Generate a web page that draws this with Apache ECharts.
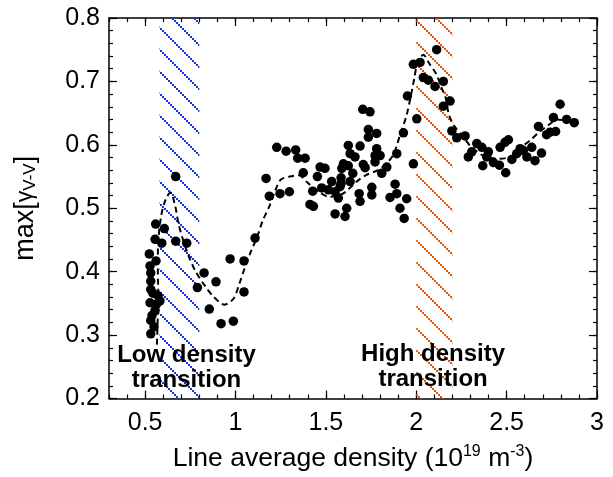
<!DOCTYPE html>
<html>
<head>
<meta charset="utf-8">
<script src="https://cdn.jsdelivr.net/npm/echarts@6/dist/echarts.min.js"></script>
<style>
html,body{margin:0;padding:0;background:#fff;}
#chart{width:613px;height:477px;}
</style>
</head>
<body>
<div id="chart"></div>
<script>
// measured points, max[gamma V-V] vs line average density
var pointsX = [
  0.669,0.558,0.606,0.669,0.730,0.555,0.592,0.523,0.560,0.527,0.531,0.531,0.531,0.527,0.582,0.564,0.555,0.531,0.531,
  0.826,0.789,0.855,0.543,0.571,0.538,0.549,
  0.892,0.970,1.047,1.047,0.920,0.988,1.108,1.187,1.246,1.298,1.169,1.228,1.280,1.333,1.344,
  1.704,1.744,1.735,1.781,1.735,1.624,1.689,1.385,1.634,1.661,1.781,1.772,1.800,1.892,1.772,1.597,1.588,1.624,
  1.707,1.717,1.468,1.495,1.375,1.453,1.584,1.649,1.809,1.837,1.984,1.532,1.584,1.634,1.477,1.514,1.551,1.427,
  1.569,1.684,1.754,1.754,1.883,1.892,1.689,1.855,1.947,1.910,1.933,1.412,1.431,1.615,1.551,1.606,1.578,
  2.003,1.951,1.929,1.984,2.021,2.113,2.039,2.067,2.104,2.150,2.187,2.150,2.197,2.224,2.270,2.335,2.288,2.307,
  2.363,2.399,2.390,2.368,2.427,2.460,2.495,2.464,2.491,2.510,2.529,2.575,2.593,2.556,2.612,2.657,2.639,2.693,
  2.676,2.721,2.740,2.771,2.759,2.796,2.832,2.874
];
var pointsY = [
  0.550,0.475,0.468,0.448,0.445,0.451,0.445,0.428,0.417,0.409,0.398,0.385,0.372,0.351,0.354,0.349,0.339,0.323,0.302,
  0.398,0.375,0.341,0.366,0.362,0.331,0.313,
  0.384,0.420,0.417,0.368,0.318,0.322,0.453,0.519,0.523,0.526,0.547,0.596,0.590,0.592,0.579,
  0.656,0.652,0.624,0.618,0.612,0.599,0.598,0.579,0.586,0.581,0.594,0.583,0.583,0.586,0.573,0.570,0.563,0.567,
  0.569,0.564,0.565,0.563,0.556,0.550,0.548,0.555,0.555,0.565,0.570,0.542,0.539,0.542,0.532,0.529,0.526,0.527,
  0.516,0.523,0.533,0.521,0.538,0.523,0.511,0.517,0.515,0.500,0.484,0.506,0.503,0.500,0.491,0.487,0.534,
  0.641,0.677,0.619,0.727,0.730,0.750,0.706,0.702,0.692,0.700,0.669,0.661,0.622,0.611,0.614,0.602,0.581,0.589,
  0.596,0.589,0.581,0.567,0.572,0.568,0.556,0.596,0.604,0.608,0.577,0.594,0.591,0.586,0.581,0.575,0.596,0.587,
  0.629,0.616,0.620,0.621,0.643,0.664,0.640,0.635
];
// dashed trend curve
var trendX = [0.565,0.57,0.572,0.57,0.572,0.59,0.615,0.64,0.665,0.685,0.71,0.74,0.78,0.83,0.88,0.94,0.99,1.02,1.05,1.08,
  1.12,1.15,1.19,1.22,1.25,1.30,1.35,1.40,1.46,1.52,1.57,1.61,1.67,1.72,1.80,1.87,1.915,1.945,1.97,1.99,2.005,2.04,
  2.07,2.11,2.14,2.165,2.18,2.21,2.27,2.30,2.37,2.45,2.53,2.59,2.63,2.68,2.735,2.78,2.85];
var trendY = [0.285,0.33,0.37,0.41,0.445,0.49,0.515,0.525,0.505,0.475,0.45,0.425,0.40,0.378,0.36,0.348,0.358,0.38,0.405,0.428,
  0.455,0.48,0.505,0.528,0.545,0.55,0.552,0.54,0.526,0.518,0.52,0.526,0.542,0.552,0.562,0.583,0.62,0.645,0.677,0.706,0.727,0.742,
  0.729,0.712,0.69,0.672,0.648,0.63,0.609,0.598,0.583,0.578,0.582,0.598,0.607,0.62,0.632,0.64,0.636];
// transition bands
var lowBand = [0.58, 0.80];
var highBand = [2.00, 2.20];
var bandNames = ['Low density\ntransition', 'High density\ntransition'];
var labelX = [0.729, 2.093];
var labelY = [0.249, 0.250];
// ticks
var xMajor = [0.5, 1, 1.5, 2, 2.5, 3];
var yMajor = [0.2, 0.3, 0.4, 0.5, 0.6, 0.7, 0.8];
var xMinor = [];
for (var i = 3; i <= 30; i++) xMinor.push(i / 10);
var yMinor = [];
for (var j = 10; j <= 40; j++) yMinor.push(j / 50);

var FONT = 'Liberation Sans, Arial, Helvetica, sans-serif';

// diagonal hatch tile for the transition bands
function hatch(color){
	var c = document.createElement('canvas');
	c.width = 22; c.height = 22;
	var g = c.getContext('2d');
	g.fillStyle = color;
	for (var k = 0; k < 22; k += 2) {
		g.fillRect(k, k, 2, 2);
	}
	return c;
}

function xAx(pos, ticks, len, line, label){
	return {
		type: 'value', position: pos, min: 0.3, max: 3,
		axisLine: {show: line, onZero: false, lineStyle: {color: '#000', width: 1.5}},
		axisTick: {show: true, inside: true, length: len, customValues: ticks, lineStyle: {color: '#000', width: 1.2}},
		axisLabel: {show: label, customValues: xMajor, color: '#000', fontSize: 25, fontFamily: FONT, margin: 12,
			formatter: function(v){ return String(+v.toFixed(1)); }},
		splitLine: {show: false}
	};
}
function yAx(pos, ticks, len, line, label){
	return {
		type: 'value', position: pos, min: 0.2, max: 0.8,
		axisLine: {show: line, onZero: false, lineStyle: {color: '#000', width: 1.5}},
		axisTick: {show: true, inside: true, length: len, customValues: ticks, lineStyle: {color: '#000', width: 1.2}},
		axisLabel: {show: label, customValues: yMajor, color: '#000', fontSize: 25, fontFamily: FONT, margin: 9,
			formatter: function(v){ return v.toFixed(1); }},
		splitLine: {show: false}
	};
}

var xs = [xAx('bottom', xMajor, 8, true, true), xAx('bottom', xMinor, 4, false, false),
          xAx('top', xMajor, 8, true, false), xAx('top', xMinor, 4, false, false)];
var ys = [yAx('left', yMajor, 8, true, true), yAx('left', yMinor, 4, false, false),
          yAx('right', yMajor, 8, true, false), yAx('right', yMinor, 4, false, false)];

xs[0].name = 'Line average density (10{sup|19} m{sup|-3})';
xs[0].nameLocation = 'middle';
xs[0].nameGap = 45;
xs[0].nameTextStyle = {color: '#000', fontSize: 26.5, fontFamily: FONT,
	rich: {sup: {fontSize: 16, verticalAlign: 'top', fontFamily: FONT, color: '#000', padding: [0, 0, 14, 0]}}};
ys[0].name = '{n|max[}{g|γ}{s|V-V}{n|]}';
ys[0].nameLocation = 'middle';
ys[0].nameGap = 70;
ys[0].nameTextStyle = {color: '#000', fontSize: 27, fontFamily: FONT,
	rich: {
		n: {fontSize: 27, fontFamily: FONT, color: '#000'},
		g: {fontSize: 23, fontFamily: FONT, color: '#000'},
		s: {fontSize: 17, fontFamily: FONT, color: '#000', verticalAlign: 'bottom', padding: [10, 0, 0, 0]}
	}};

var scatterData = [];
for (var a = 0; a < pointsX.length; a++) scatterData.push([pointsX[a], pointsY[a]]);
var trendData = [];
for (var b = 0; b < trendX.length; b++) trendData.push([trendX[b], trendY[b]]);
var labelData = [];
for (var c = 0; c < labelX.length; c++) labelData.push({value: [labelX[c], labelY[c]], name: bandNames[c]});

var myChart = echarts.init(document.getElementById('chart'), null, {renderer: 'canvas'});
var option = {
	animation: false,
	backgroundColor: '#fff',
	grid: {left: 109, right: 16, top: 18, bottom: 75, containLabel: false},
	xAxis: xs,
	yAxis: ys,
	series: [
		{
			type: 'scatter',
			symbolSize: 9.5,
			itemStyle: {color: '#000', opacity: 1},
			data: scatterData,
			z: 3,
			markArea: {
				silent: true,
				z: 1,
				data: [
					[{xAxis: lowBand[0], itemStyle: {color: {image: hatch('#1536e6'), repeat: 'repeat'}, opacity: 1}}, {xAxis: lowBand[1]}],
					[{xAxis: highBand[0], itemStyle: {color: {image: hatch('#e5550c'), repeat: 'repeat'}, opacity: 1}}, {xAxis: highBand[1]}]
				]
			}
		},
		{
			type: 'line',
			data: trendData,
			showSymbol: false,
			smooth: 0.3,
			lineStyle: {color: '#000', width: 2, type: [6, 4]},
			z: 4
		},
		{
			type: 'scatter',
			symbolSize: 0,
			data: labelData,
			z: 10,
			itemStyle: {opacity: 1},
			label: {show: true, position: 'inside', formatter: '{b}', color: '#000', opacity: 1, fontSize: 24,
				fontWeight: 'bold', fontFamily: FONT, lineHeight: 25, align: 'center'}
		}
	]
};
myChart.setOption(option);
</script>
</body>
</html>
